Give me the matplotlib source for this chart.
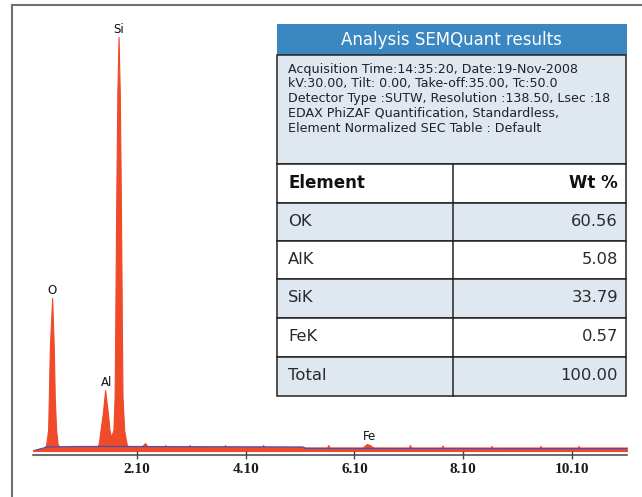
import matplotlib
matplotlib.use('Agg')
import matplotlib.pyplot as plt
from matplotlib.patches import Rectangle
from matplotlib.lines import Line2D

# spectrum outline (keV, counts)
spec_kev = [0.19, 0.30, 0.40, 0.43, 0.468, 0.481, 0.50, 0.542, 0.572, 0.590, 0.615, 0.645, 0.70,
            0.90, 1.10, 1.30, 1.38, 1.40, 1.432, 1.474, 1.516, 1.566, 1.596, 1.626,
            1.668, 1.690, 1.699, 1.706, 1.721, 1.731, 1.741, 1.763, 1.785, 1.795, 1.805,
            1.820, 1.827, 1.836, 1.866, 1.915, 1.96,
            2.10, 2.20, 2.25, 2.30, 2.60, 2.62, 2.64, 3.05, 3.07, 3.09, 3.70, 3.72, 3.74,
            4.40, 4.42, 4.44, 5.15, 5.20, 5.60, 5.62, 5.64, 6.25, 6.33, 6.38, 6.45,
            7.10, 7.12, 7.14, 7.70, 7.72, 7.74, 8.60, 8.62, 8.64, 9.50, 9.52, 9.54,
            10.20, 10.22, 10.24, 11.11]
spec_counts = [1, 2, 3, 6, 21, 54, 104, 153, 104, 54, 21, 6, 4,
               4, 4, 4, 5, 8, 21, 38, 61, 38, 21, 14,
               21, 54, 104, 154, 253, 309, 359, 414, 359, 309, 253,
               154, 104, 54, 21, 6, 4,
               4, 5, 8, 4, 4, 6, 4, 4, 6, 4, 4, 6, 4,
               4, 6, 4, 4, 3.5, 3.5, 6, 3.5, 3.5, 7, 6, 3.5,
               3.5, 6, 3.5, 3.5, 5.5, 3.5, 3.5, 5, 3.5, 3.5, 5, 3.5,
               3.5, 5, 3.5, 3.5]

# fitted background line (keV, counts)
bg_kev = [0.25, 0.45, 1.0, 2.0, 3.0, 4.0, 5.15, 5.2, 8.0, 11.11]
bg_counts = [1, 4, 4.5, 4.5, 4.3, 4.2, 4.0, 2.6, 2.4, 2.3]

peak_names = ['O', 'Al', 'Si', 'Fe']
peak_kev = [0.542, 1.55, 1.763, 6.37]
peak_top = [153, 61, 414, 7]

tick_kev = [2.1, 4.1, 6.1, 8.1, 10.1]
tick_labels = ['2.10', '4.10', '6.10', '8.10', '10.10']

title = 'Analysis SEMQuant results'
info_lines = ['Acquisition Time:14:35:20, Date:19-Nov-2008',
              'kV:30.00, Tilt: 0.00, Take-off:35.00, Tc:50.0',
              'Detector Type :SUTW, Resolution :138.50, Lsec :18',
              'EDAX PhiZAF Quantification, Standardless,',
              'Element Normalized SEC Table : Default']
col_headers = ['Element', 'Wt %']
elements = ['OK', 'AlK', 'SiK', 'FeK', 'Total']
wt_pct = [60.56, 5.08, 33.79, 0.57, 100.00]

W, H = 642, 497
fig = plt.figure(figsize=(W / 100, H / 100), dpi=100)
fig.patch.set_facecolor('white')

red = '#EF4A2A'
light = '#DFE7F1'
dark = '#222222'

# spectrum axes
ax = fig.add_axes([33 / W, (H - 455) / H, (627 - 33) / W, 450 / H])
ax.fill_between(spec_kev, spec_counts, 0, color=red, lw=0.8, edgecolor=red)
ax.plot(bg_kev, bg_counts, color='#4C4FB0', lw=0.9)
ax.set_xlim(0.19, 11.11)
ax.set_ylim(-4, 446)
for s in ['top', 'left', 'right']:
    ax.spines[s].set_visible(False)
ax.spines['bottom'].set_color('#444444')
ax.spines['bottom'].set_linewidth(1.1)
ax.set_yticks([])
ax.set_xticks(tick_kev)
ax.set_xticklabels(tick_labels, fontfamily='Liberation Serif', fontweight='bold', fontsize=11)
ax.tick_params(axis='x', direction='inout', length=6, width=1, color='#444444', pad=2.5,
               labelcolor='#1a1a1a')
ax.patch.set_alpha(0)

for name, k, top in zip(peak_names, peak_kev, peak_top):
    ax.annotate(name, (k, top), xytext=(0, 5.5), textcoords='offset points',
                ha='center', va='center', fontsize=8.5, color='#111111')

# overlay in pixel coordinates for frame and results table
ov = fig.add_axes([0, 0, 1, 1])
ov.set_xlim(0, W)
ov.set_ylim(H, 0)
ov.set_axis_off()

ov.add_line(Line2D([12, W], [5, 5], color='#707070', lw=1.5))
ov.add_line(Line2D([12, 12], [5, H], color='#707070', lw=1.5))

x0, x1, xmid = 277, 626, 453
ov.add_patch(Rectangle((x0, 24), x1 - x0 + 1, 31, fc='#3A87C2', ec='none'))
ov.text((x0 + x1) / 2, 40, title, color='white', fontsize=12, ha='center', va='center')

ov.add_patch(Rectangle((x0, 55), x1 - x0, 109, fc=light, ec=dark, lw=1.1))
for i, line in enumerate(info_lines):
    ov.text(288, 69 + 14.8 * i, line, fontsize=9.1, ha='left', va='center', color='#222222')

row_edges = [164, 203, 241, 279, 318, 357, 396]
fills = ['white', light, 'white', light, 'white', light]
for i in range(len(row_edges) - 1):
    ya, yb = row_edges[i], row_edges[i + 1]
    ov.add_patch(Rectangle((x0, ya), x1 - x0, yb - ya, fc=fills[i], ec=dark, lw=1.1))
    ov.add_line(Line2D([xmid, xmid], [ya, yb], color=dark, lw=1.1))

ov.text(288, (row_edges[0] + row_edges[1]) / 2 - 1, col_headers[0], fontsize=12,
        fontweight='bold', ha='left', va='center', color='#111111')
ov.text(618, (row_edges[0] + row_edges[1]) / 2 - 1, col_headers[1], fontsize=12,
        fontweight='bold', ha='right', va='center', color='#111111')
for i, (el, v) in enumerate(zip(elements, wt_pct)):
    yc = (row_edges[i + 1] + row_edges[i + 2]) / 2 - 1
    ov.text(288, yc, el, fontsize=11.8, ha='left', va='center', color='#2a2a2a')
    ov.text(618, yc, f'{v:.2f}', fontsize=11.8, ha='right', va='center', color='#2a2a2a')

fig.savefig('out.png', dpi=100)
